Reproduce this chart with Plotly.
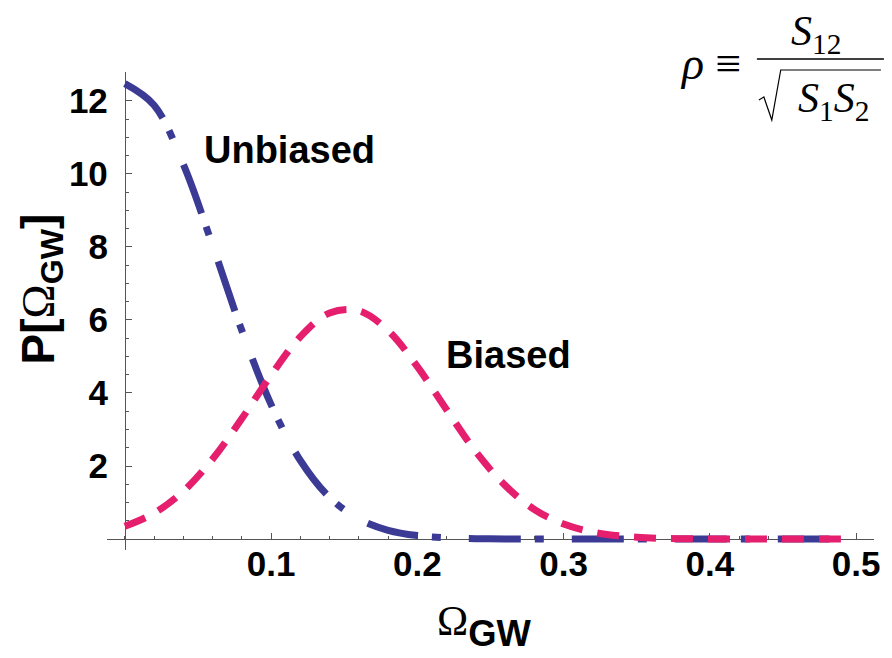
import plotly.graph_objects as go

# Sample positions along Omega_GW
omega = [0.00, 0.02, 0.04, 0.06, 0.08, 0.10, 0.12, 0.14, 0.16, 0.18,
         0.20, 0.22, 0.24, 0.26, 0.28, 0.30, 0.32, 0.34, 0.36, 0.38,
         0.40, 0.42, 0.44, 0.46, 0.48, 0.49]

# Posterior for the unbiased estimator
p_unbiased = [12.47, 11.88, 10.26, 8.04, 5.71, 3.68, 2.15, 1.14, 0.55, 0.24,
              0.095, 0.034, 0.011, 0.003, 0.001, 0.0, 0.0, 0.0, 0.0, 0.0,
              0.0, 0.0, 0.0, 0.0, 0.0, 0.0]

# Posterior for the biased estimator
p_biased = [0.35, 0.71, 1.31, 2.19, 3.30, 4.49, 5.54, 6.19, 6.25, 5.71,
            4.72, 3.54, 2.39, 1.47, 0.81, 0.41, 0.19, 0.08, 0.03, 0.01,
            0.003, 0.0, 0.0, 0.0, 0.0, 0.0]

x_ticks = [0.1, 0.2, 0.3, 0.4, 0.5]
x_ticktext = ["0.1", "0.2", "0.3", "0.4", "0.5"]
y_ticks = [2, 4, 6, 8, 10, 12]
y_ticktext = ["2", "4", "6", "8", "10", "12"]

BLUE = "#3b3b96"
PINK = "#e51e6d"
AXIS = "#555555"
SANS = "Liberation Sans"
SERIF = "Liberation Serif"

W, H = 892, 658
ML, MR, MT, MB = 107, 12, 72, 108
XR = [-0.0122, 0.5122]
YR = [-0.30, 12.79]


def px(xp):
    """pixel column -> paper x"""
    return (xp - ML) / (W - ML - MR)


def py(yp):
    """pixel row -> paper y"""
    return (H - MB - yp) / (H - MT - MB)


fig = go.Figure()

fig.add_trace(go.Scatter(
    x=omega, y=p_unbiased, mode="lines", name="Unbiased",
    line=dict(color=BLUE, width=7, dash="52px,14px,9px,28px",
              shape="spline", smoothing=1.0),
    hoverinfo="skip",
))
fig.add_trace(go.Scatter(
    x=omega, y=p_biased, mode="lines", name="Biased",
    line=dict(color=PINK, width=7, dash="22px,15px",
              shape="spline", smoothing=1.0),
    hoverinfo="skip",
))

tickfont = dict(family=SANS, size=35, color="black", weight="bold")

fig.update_layout(
    width=W, height=H,
    margin=dict(l=ML, r=MR, t=MT, b=MB),
    paper_bgcolor="white", plot_bgcolor="white",
    showlegend=False,
    xaxis=dict(
        range=XR, anchor="free",
        position=(0 - YR[0]) / (YR[1] - YR[0]),
        showgrid=False, zeroline=False,
        showline=True, linecolor=AXIS, linewidth=1,
        ticks="inside", ticklen=6, tickcolor=AXIS, tickwidth=1,
        tickmode="array", tickvals=x_ticks, ticktext=x_ticktext,
        tickfont=tickfont, ticklabelstandoff=-6,
        minor=dict(ticks="inside", ticklen=3.5, tickcolor=AXIS,
                   tickmode="linear", tick0=0, dtick=0.02),
        layer="below traces",
    ),
    yaxis=dict(
        range=YR, anchor="free",
        position=(0 - XR[0]) / (XR[1] - XR[0]),
        showgrid=False, zeroline=False,
        showline=True, linecolor=AXIS, linewidth=1,
        ticks="inside", ticklen=6, tickcolor=AXIS, tickwidth=1,
        tickmode="array", tickvals=y_ticks, ticktext=y_ticktext,
        tickfont=tickfont, ticklabelstandoff=10,
        minor=dict(ticks="inside", ticklen=3.5, tickcolor=AXIS,
                   tickmode="linear", tick0=0, dtick=0.5),
        layer="below traces",
    ),
)

label_font = dict(family=SANS, size=38, color="black", weight="bold")

# Curve labels
fig.add_annotation(x=0.1125, y=10.66, text="Unbiased", showarrow=False,
                   xanchor="center", yanchor="middle", font=label_font)
fig.add_annotation(x=0.262, y=5.04, text="Biased", showarrow=False,
                   xanchor="center", yanchor="middle", font=label_font)

# Axis titles
fig.add_annotation(
    xref="paper", yref="paper", x=px(487), y=py(626),
    text=f"<span style='font-family:{SERIF};font-weight:normal;font-size:42px'>Ω</span>"
         "<b><sub>GW</sub></b>",
    showarrow=False, xanchor="center", yanchor="middle",
    font=dict(family=SANS, size=52, color="black"),
)
fig.add_annotation(
    xref="paper", yref="paper", x=px(40), y=py(289),
    text=f"<b>P[</b><span style='font-family:{SERIF};font-weight:normal'>Ω</span>"
         "<b><sub>GW</sub>]</b>",
    textangle=-90, showarrow=False, xanchor="center", yanchor="middle",
    font=dict(family=SANS, size=46, color="black"),
)

# Definition of rho in the upper-right corner
serif = dict(family=SERIF, size=42, color="black")
fig.add_annotation(xref="paper", yref="paper", x=px(716), y=py(64),
                   text="<i>ρ</i> ≡", showarrow=False,
                   xanchor="center", yanchor="middle",
                   font=dict(family=SERIF, size=46, color="black"))
fig.add_annotation(xref="paper", yref="paper", x=px(822), y=py(34),
                   text="<i>S</i><sub>12</sub>", showarrow=False,
                   xanchor="center", yanchor="middle", font=serif)
fig.add_annotation(xref="paper", yref="paper", x=px(839), y=py(101),
                   text="<i>S</i><sub>1</sub><i>S</i><sub>2</sub>",
                   showarrow=False, xanchor="center", yanchor="middle",
                   font=serif)
fig.add_shape(type="line", xref="paper", yref="paper",
              x0=px(762), x1=px(890), y0=py(59), y1=py(59),
              line=dict(color="black", width=1.5))
radical = (f"M {px(764)},{py(100)} L {px(769)},{py(97)} L {px(777)},{py(120)} "
           f"L {px(786)},{py(70)} L {px(887)},{py(70)}")
fig.add_shape(type="path", xref="paper", yref="paper", path=radical,
              line=dict(color="black", width=1.2))

fig.write_html("out.html")
